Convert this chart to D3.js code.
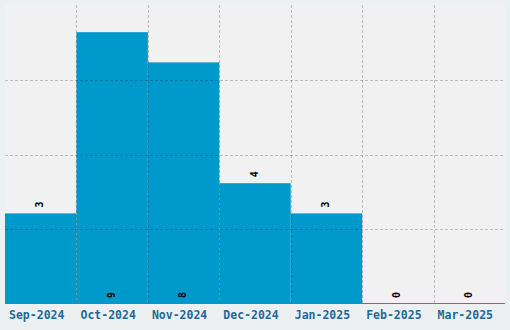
<!DOCTYPE html>
<html><head><meta charset="utf-8">
<script src="https://cdn.jsdelivr.net/npm/d3@7"></script>
<style>
html,body{margin:0;padding:0;background:#edf0f1;}
svg{display:block;}
</style></head>
<body>
<svg id="chart" width="510" height="330"></svg>
<script>
const categories = ["Sep-2024","Oct-2024","Nov-2024","Dec-2024","Jan-2025","Feb-2025","Mar-2025"];
const values = [3, 9, 8, 4, 3, 0, 0];

const W = 510, H = 330;
const m = {left:5, right:5, top:5, bottom:26};
const svg = d3.select("#chart");
const x = d3.scaleBand().domain(categories).range([m.left, W - m.right]).padding(0);
const yMax = d3.max(values) * 1.1;
const y = d3.scaleLinear().domain([0, yMax]).range([H - m.bottom, m.top]);

svg.append("rect").attr("x", m.left).attr("y", m.top)
  .attr("width", W - m.left - m.right).attr("height", H - m.top - m.bottom)
  .attr("fill", "#f1f1f1");

svg.append("g").selectAll("rect").data(values).join("rect")
  .attr("x", (d,i) => x(categories[i]))
  .attr("y", d => y(d))
  .attr("width", x.bandwidth())
  .attr("height", d => y(0) - y(d))
  .attr("fill", "#0099cc");

// baseline
svg.append("line").attr("x1", m.left).attr("x2", W - m.right)
  .attr("y1", y(0) - 0.5).attr("y2", y(0) - 0.5)
  .attr("stroke", "#0099cc").attr("stroke-width", 1);

// grid
const grid = svg.append("g").attr("stroke", "rgba(0,0,0,0.22)")
  .attr("stroke-dasharray", "3,2").attr("stroke-width", 1);
const yGrid = [1,2,3].map(k => yMax * k / 4);
grid.selectAll("line.h").data(yGrid).join("line").attr("class","h")
  .attr("x1", m.left).attr("x2", W - m.right)
  .attr("y1", d => Math.round(y(d)) + 0.5).attr("y2", d => Math.round(y(d)) + 0.5);
grid.selectAll("line.v").data(categories.slice(1)).join("line").attr("class","v")
  .attr("x1", d => Math.round(x(d)) + 0.5).attr("x2", d => Math.round(x(d)) + 0.5)
  .attr("y1", m.top).attr("y2", y(0));

// value labels
const plotH = y(0) - y(yMax);
svg.append("g").selectAll("text").data(values).join("text")
  .attr("transform", (d,i) => {
    const cx = x(categories[i]) + x.bandwidth()/2 - 1;
    const inside = (y(0) - y(d)) > plotH * 0.7;
    const ty = inside ? y(0) - 6 : y(d) - 6;
    return `translate(${cx},${ty}) rotate(-90)`;
  })
  .attr("dy", "0.35em")
  .attr("text-anchor", "start")
  .attr("font-family", "DejaVu Sans Mono, monospace")
  .attr("font-weight", "bold")
  .attr("font-size", "10px")
  .attr("fill", "#000")
  .text(d => d);

// x axis labels
const xAxis = d3.axisBottom(x).tickSize(0).tickPadding(0);
const ax = svg.append("g").attr("transform", `translate(-4,${y(0)})`).call(xAxis);
ax.select(".domain").remove();
ax.selectAll("text")
  .attr("y", 11).attr("dy", "0.35em")
  .attr("font-family", "DejaVu Sans Mono, monospace")
  .attr("font-weight", "bold")
  .attr("font-size", "11.5px")
  .attr("fill", "#1d6a9c");
</script>
</body></html>
